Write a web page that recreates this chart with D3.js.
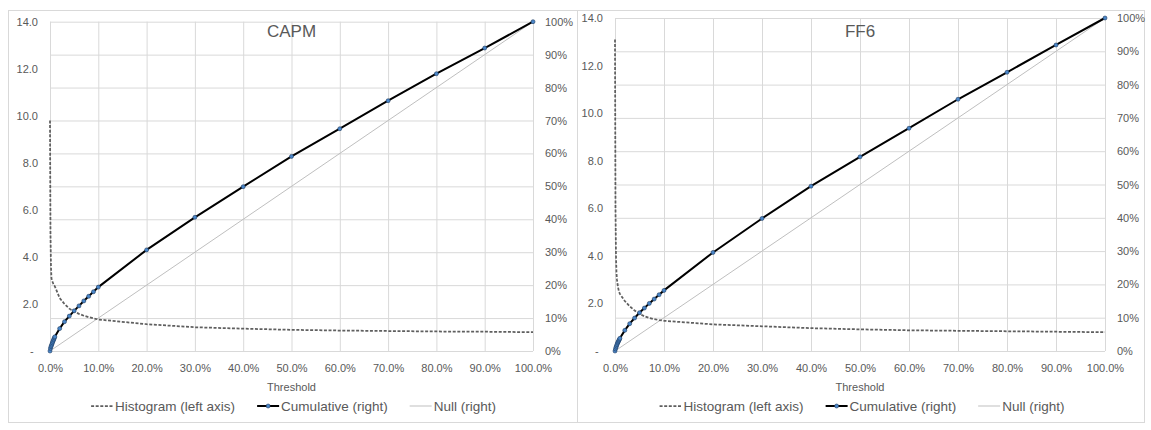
<!DOCTYPE html>
<html>
<head>
<meta charset="utf-8">
<script src="https://cdn.jsdelivr.net/npm/d3@7"></script>
<style>
  body { margin: 0; background: #fff; }
  svg { display: block; font-family: "Liberation Sans", Arial, sans-serif; }
</style>
</head>
<body>
<div id="chart"></div>
<script>
// thresholds (share of sample)
const thresholds = [0, 0.001, 0.002, 0.003, 0.004, 0.005, 0.006, 0.007, 0.008, 0.009,
  0.01, 0.02, 0.03, 0.04, 0.05, 0.06, 0.07, 0.08, 0.09, 0.10,
  0.2, 0.3, 0.4, 0.5, 0.6, 0.7, 0.8, 0.9, 1.0];

// CAPM
const capmHist = [9.8, 5.0, 3.6, 3.1, 3.0, 2.95, 2.9, 2.85, 2.8, 2.78,
  2.75, 2.25, 2.0, 1.8, 1.68, 1.58, 1.5, 1.44, 1.39, 1.34,
  1.14, 1.01, 0.95, 0.9, 0.87, 0.85, 0.83, 0.82, 0.8];
const capmCum = [0, 0.008, 0.013, 0.017, 0.021, 0.025, 0.029, 0.033, 0.036, 0.040,
  0.043, 0.068, 0.089, 0.106, 0.122, 0.137, 0.152, 0.166, 0.180, 0.194,
  0.307, 0.406, 0.499, 0.591, 0.675, 0.760, 0.842, 0.920, 1.0];

// FF6
const ff6Hist = [13.1, 6.0, 4.0, 3.3, 3.0, 2.85, 2.7, 2.6, 2.5, 2.45,
  2.4, 2.1, 1.88, 1.7, 1.56, 1.46, 1.39, 1.34, 1.3, 1.27,
  1.12, 1.04, 0.96, 0.91, 0.87, 0.85, 0.83, 0.81, 0.79];
const ff6Cum = [0, 0.006, 0.011, 0.015, 0.019, 0.023, 0.026, 0.029, 0.032, 0.035,
  0.038, 0.062, 0.082, 0.099, 0.115, 0.129, 0.143, 0.156, 0.169, 0.182,
  0.296, 0.398, 0.495, 0.583, 0.669, 0.756, 0.837, 0.919, 1.0];

const nullLine = [0, 1];

const xTicks = [0, 0.1, 0.2, 0.3, 0.4, 0.5, 0.6, 0.7, 0.8, 0.9, 1.0];
const leftTicks = [0, 2, 4, 6, 8, 10, 12, 14];
const rightTicks = [0, 0.1, 0.2, 0.3, 0.4, 0.5, 0.6, 0.7, 0.8, 0.9, 1.0];
const titles = ["CAPM", "FF6"];
const legendLabels = ["Histogram (left axis)", "Cumulative (right)", "Null (right)"];
const xTitle = "Threshold";

const W = 1151, H = 430;
const textColor = "#595959";
const gridColor = "#d9d9d9";

const svg = d3.select("#chart").append("svg")
  .attr("width", W)
  .attr("height", H);

const panels = [
  { title: titles[0], hist: capmHist, cum: capmCum,
    frame: { x: 8, y: 10, w: 569, h: 412 },
    plot: { left: 50, right: 533, top: 21.7, bottom: 351 } },
  { title: titles[1], hist: ff6Hist, cum: ff6Cum,
    frame: { x: 577, y: 10, w: 567, h: 412 },
    plot: { left: 615, right: 1105, top: 18, bottom: 351 } }
];

panels.forEach(p => drawPanel(p));

function drawPanel(p) {
  const g = svg.append("g");
  const pl = p.plot;

  g.append("rect")
    .attr("x", p.frame.x + 0.5).attr("y", p.frame.y + 0.5)
    .attr("width", p.frame.w).attr("height", p.frame.h)
    .attr("fill", "#fff").attr("stroke", gridColor);

  const x = d3.scaleLinear().domain([0, 1]).range([pl.left, pl.right]);
  const yL = d3.scaleLinear().domain([0, 14]).range([pl.bottom, pl.top]);
  const yR = d3.scaleLinear().domain([0, 1]).range([pl.bottom, pl.top]);

  // gridlines
  g.append("g")
    .attr("transform", `translate(0,${pl.bottom})`)
    .call(d3.axisBottom(x).tickValues(xTicks).tickSize(-(pl.bottom - pl.top)).tickFormat(""))
    .call(a => a.select(".domain").remove())
    .call(a => a.selectAll("line").attr("stroke", gridColor));
  g.append("g")
    .attr("transform", `translate(${pl.left},0)`)
    .call(d3.axisRight(yR).tickValues(rightTicks).tickSize(pl.right - pl.left).tickFormat(""))
    .call(a => a.select(".domain").remove())
    .call(a => a.selectAll("line").attr("stroke", gridColor));

  // axes labels
  g.append("g")
    .attr("transform", `translate(0,${pl.bottom})`)
    .call(d3.axisBottom(x).tickValues(xTicks).tickSize(0).tickPadding(13).tickFormat(d3.format(".1%")))
    .call(a => a.select(".domain").remove())
    .call(a => a.selectAll("text").attr("fill", textColor).attr("font-size", 11));

  g.append("g")
    .attr("transform", `translate(${pl.left},0)`)
    .call(d3.axisLeft(yL).tickValues(leftTicks).tickSize(0).tickPadding(12)
      .tickFormat(d => d === 0 ? "-" : d3.format(".1f")(d)))
    .call(a => a.select(".domain").remove())
    .call(a => a.selectAll("text").attr("fill", textColor).attr("font-size", 11))
    .call(a => a.selectAll(".tick").filter(d => d === 0).select("text").attr("dx", "-0.4em"));

  g.append("g")
    .attr("transform", `translate(${pl.right},0)`)
    .call(d3.axisRight(yR).tickValues(rightTicks).tickSize(0).tickPadding(12).tickFormat(d3.format(".0%")))
    .call(a => a.select(".domain").remove())
    .call(a => a.selectAll("text").attr("fill", textColor).attr("font-size", 11));

  // title
  g.append("text")
    .attr("x", (pl.left + pl.right) / 2)
    .attr("y", 36.5)
    .attr("text-anchor", "middle")
    .attr("fill", textColor)
    .attr("font-size", 17)
    .text(p.title);

  g.append("text")
    .attr("x", (pl.left + pl.right) / 2)
    .attr("y", 391)
    .attr("text-anchor", "middle")
    .attr("fill", textColor)
    .attr("font-size", 11)
    .text(xTitle);

  // series
  const nullData = nullLine.map(v => ({ x: v, y: v }));
  g.append("path")
    .datum(nullData)
    .attr("fill", "none")
    .attr("stroke", "#bfbfbf")
    .attr("stroke-width", 1)
    .attr("d", d3.line().x(d => x(d.x)).y(d => yR(d.y)));

  const histData = thresholds.map((t, i) => ({ x: t, y: p.hist[i] }));
  g.append("path")
    .datum(histData)
    .attr("fill", "none")
    .attr("stroke", "#5f5f5f")
    .attr("stroke-width", 1.75)
    .attr("stroke-dasharray", "3,1.6")
    .attr("d", d3.line().x(d => x(d.x)).y(d => yL(d.y)));

  const cumData = thresholds.map((t, i) => ({ x: t, y: p.cum[i] }));
  g.append("path")
    .datum(cumData)
    .attr("fill", "none")
    .attr("stroke", "#000")
    .attr("stroke-width", 2)
    .attr("d", d3.line().x(d => x(d.x)).y(d => yR(d.y)));

  g.selectAll(".dot")
    .data(cumData)
    .enter().append("circle")
    .attr("class", "dot")
    .attr("cx", d => x(d.x))
    .attr("cy", d => yR(d.y))
    .attr("r", 2)
    .attr("fill", "#4a86c8")
    .attr("stroke", "#1f3a5f")
    .attr("stroke-width", 0.6);

  // legend
  const lg = g.append("g").attr("transform", "translate(0,406)");
  const sampleW = 22, gapText = 2, gapItem = 22;
  let cx = 0;
  legendLabels.forEach((label, i) => {
    const item = lg.append("g").attr("transform", `translate(${cx},0)`);
    const ln = item.append("line")
      .attr("x1", 0).attr("x2", sampleW).attr("y1", 0).attr("y2", 0);
    if (i === 0) {
      ln.attr("stroke", "#5f5f5f").attr("stroke-width", 1.75).attr("stroke-dasharray", "3,1.6");
    } else if (i === 1) {
      ln.attr("stroke", "#000").attr("stroke-width", 2);
      item.append("circle").attr("cx", sampleW / 2).attr("cy", 0).attr("r", 2)
        .attr("fill", "#4a86c8").attr("stroke", "#1f3a5f").attr("stroke-width", 0.6);
    } else {
      ln.attr("stroke", "#bfbfbf").attr("stroke-width", 1);
    }
    const t = item.append("text")
      .attr("x", sampleW + gapText)
      .attr("dy", "0.35em")
      .attr("fill", textColor)
      .attr("font-size", 13.5)
      .text(label);
    cx += sampleW + gapText + t.node().getComputedTextLength() + gapItem;
  });
  const total = cx - gapItem;
  const mid = (pl.left + pl.right) / 2 + 2;
  lg.attr("transform", `translate(${mid - total / 2},406)`);
}
</script>
</body>
</html>
